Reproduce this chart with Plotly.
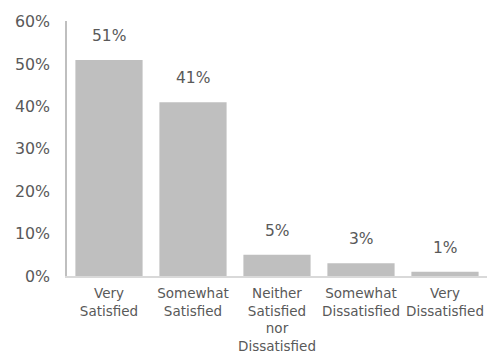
import plotly.graph_objects as go

# Survey satisfaction distribution
categories = ["Very<br>Satisfied", "Somewhat<br>Satisfied", "Neither<br>Satisfied<br>nor<br>Dissatisfied",
              "Somewhat<br>Dissatisfied", "Very<br>Dissatisfied"]
shares = [51, 41, 5, 3, 1]
y_ticks = [0, 10, 20, 30, 40, 50, 60]

text_color = "#595959"
font_family = "DejaVu Sans"

fig = go.Figure(
    go.Bar(
        x=categories,
        y=shares,
        marker=dict(color="#bfbfbf", line=dict(width=0)),
        hoverinfo="skip",
    )
)

# Value labels floating above each bar
for cat, val in zip(categories, shares):
    fig.add_annotation(
        x=cat, y=val, text=f"{val}%", showarrow=False,
        yanchor="middle", yshift=24,
        font=dict(family=font_family, size=15.5, color=text_color),
    )

fig.update_layout(
    width=489, height=353,
    margin=dict(l=67, r=2, t=21, b=77),
    paper_bgcolor="white", plot_bgcolor="white",
    bargap=0.2,
    showlegend=False,
    font=dict(family=font_family, color=text_color),
)
fig.update_xaxes(
    automargin=False,
    showline=True, linecolor="#d9d9d9", linewidth=2,
    showgrid=False, ticks="", ticklabelstandoff=4,
    tickfont=dict(family=font_family, size=13.5, color=text_color),
)
fig.update_yaxes(
    automargin=False,
    range=[0, 60.2], tickvals=y_ticks, ticktext=[f"{t}%" for t in y_ticks],
    showline=True, linecolor="#bfbfbf", linewidth=1.5,
    showgrid=False, zeroline=False, ticks="", ticklabelstandoff=12,
    tickfont=dict(family=font_family, size=15.8, color=text_color),
)

fig.write_html("out.html")
